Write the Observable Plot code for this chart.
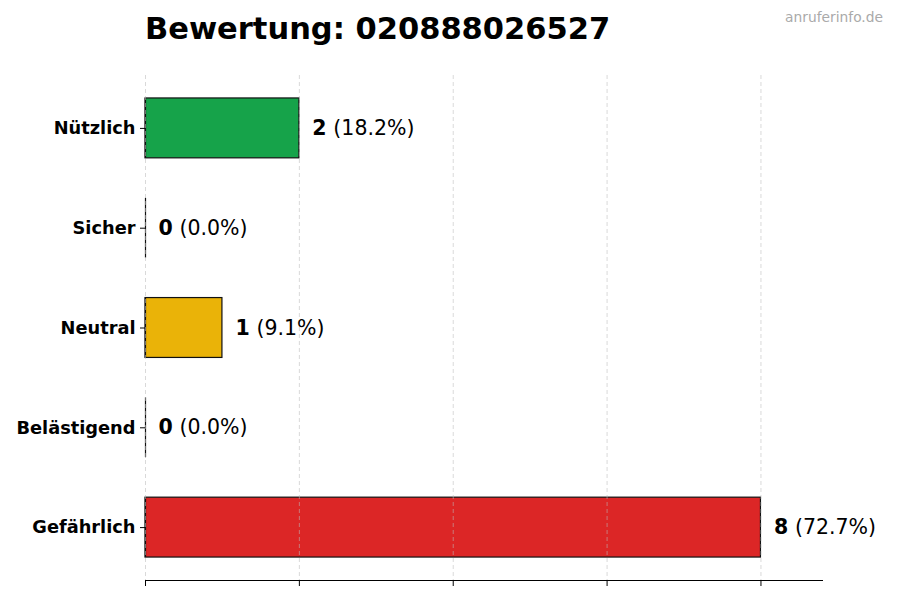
<!DOCTYPE html>
<html>
<head>
<meta charset="utf-8">
<script src="https://cdn.jsdelivr.net/npm/d3@7"></script>
<script src="https://cdn.jsdelivr.net/npm/@observablehq/plot@0.6"></script>
<style>
  html, body { margin: 0; padding: 0; background: #fff; }
  #wrap { position: relative; width: 900px; height: 600px; font-family: "DejaVu Sans", sans-serif; }
  #title { position: absolute; left: 145px; top: 11px; font-size: 30.5px; font-weight: bold; color: #000; white-space: nowrap; }
  #mark { position: absolute; right: 17px; top: 9px; font-size: 13.8px; color: #aaaaaa; white-space: nowrap; }
  #chart { position: absolute; left: 0; top: 0; }
</style>
</head>
<body>
<div id="wrap">
  <div id="chart"></div>
  <div id="title">Bewertung: 020888026527</div>
  <div id="mark">anruferinfo.de</div>
</div>
<script>
const categories = ["Nützlich", "Sicher", "Neutral", "Belästigend", "Gefährlich"];
const values = [2, 0, 1, 0, 8];
const colors = ["#16a34a", "#3b82f6", "#eab308", "#f97316", "#dc2626"];
const xTicks = [0, 2, 4, 6, 8];
const xMax = 8.8;

const total = d3.sum(values);
const data = categories.map((c, i) => ({
  cat: c,
  value: values[i],
  color: colors[i],
  pct: "(" + (values[i] / total * 100).toFixed(1) + "%)"
}));

const chart = Plot.plot({
  width: 900,
  height: 600,
  marginLeft: 145,
  marginRight: 78,
  marginTop: 75,
  marginBottom: 20,
  style: { fontFamily: "DejaVu Sans", background: "transparent", color: "#000" },
  x: { domain: [0, xMax], axis: null },
  y: { domain: categories, paddingInner: 0.4, paddingOuter: 0.23, round: false, axis: null },
  color: { type: "identity" },
  marks: [
    Plot.barX(data, { x: "value", y: "cat", fill: "color", stroke: "#111", strokeWidth: 1.2 }),
    Plot.tickX(data, { x: 0, y: "cat", stroke: "#111", strokeWidth: 1.2 }),
    Plot.gridX(xTicks, { stroke: "#bbb", strokeOpacity: 0.7, strokeDasharray: "4,3", strokeWidth: 0.8 }),
    Plot.frame({ anchor: "bottom", stroke: "#000", strokeWidth: 1 }),
    Plot.axisX({ ticks: xTicks, tickFormat: () => "", tickSize: 6, stroke: "#000", label: null }),
    Plot.axisY({ tickSize: 5, tickPadding: 5, fontSize: 17.8, fontWeight: "bold", fill: "#000", stroke: "#000", label: null }),
    Plot.text(data, { x: "value", y: "cat", text: d => String(d.value), dx: 13, textAnchor: "start", fontWeight: "bold", fontSize: 20.5, fill: "#000" }),
    Plot.text(data, { x: "value", y: "cat", text: "pct", dx: 34, textAnchor: "start", fontSize: 20.5, fill: "#000" })
  ]
});
document.getElementById("chart").appendChild(chart);
</script>
</body>
</html>
